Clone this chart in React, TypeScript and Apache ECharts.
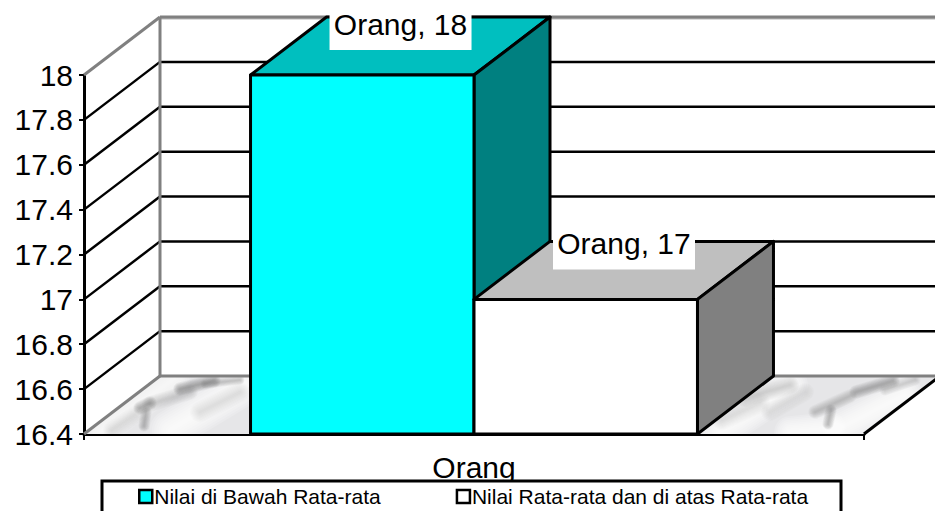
import React, { useEffect, useRef } from "react";
import * as echarts from "echarts";

const categories = ["Orang"];
const tickMin = 16.4;
const tickMax = 18;
const tickStep = 0.2;
const wallTicks = [16.4, 16.6, 16.8, 17, 17.2, 17.4, 17.6, 17.8, 18];
const seriesNames = ["Nilai di Bawah Rata-rata", "Nilai Rata-rata dan di atas Rata-rata"];
const seriesValues = [18, 17];
const frontColors = ["#00FFFF", "#FFFFFF"];
const topColors = ["#00BFBF", "#BFBFBF"];
const sideColors = ["#008080", "#808080"];

const FONT = '"Liberation Sans", Arial, sans-serif';
const DX = 76;
const DY = -58;
const BAR_RATIO = 0.2865;
const GRAY = "#808080";
const BLACK = "#000000";

// marble texture strokes: [x1, y1, x2, y2, width, grey, alpha]
const marble: number[][] = [
  [100, 432, 175, 378, 14, 255, 0.6],
  [170, 430, 245, 385, 18, 255, 0.8],
  [140, 408, 150, 403, 6, 120, 0.35],
  [144, 426, 146, 412, 5, 120, 0.3],
  [150, 404, 190, 392, 7, 150, 0.2],
  [180, 389, 214, 381, 6, 110, 0.34],
  [205, 384, 240, 380, 4, 130, 0.25],
  [112, 430, 135, 415, 8, 160, 0.14],
  [200, 412, 240, 392, 9, 170, 0.14],
  [720, 432, 790, 385, 16, 255, 0.8],
  [790, 432, 830, 428, 14, 255, 0.8],
  [840, 428, 905, 395, 16, 255, 0.8],
  [828, 424, 831, 410, 5, 120, 0.3],
  [815, 412, 850, 396, 6, 130, 0.24],
  [856, 392, 893, 381, 6, 110, 0.3],
  [745, 398, 790, 385, 8, 150, 0.2],
  [770, 412, 805, 392, 8, 165, 0.16],
  [885, 390, 915, 380, 5, 150, 0.2],
  [722, 420, 760, 403, 9, 175, 0.14],
];

const seg = (x1: number, y1: number, x2: number, y2: number, stroke: string, lineWidth: number) => ({
  type: "line",
  shape: { x1, y1, x2, y2 },
  style: { stroke, lineWidth },
});

const poly = (points: number[][], fill: any, stroke: string, lineWidth: number) => ({
  type: "polygon",
  shape: { points },
  style: { fill, stroke, lineWidth, lineJoin: "round" },
});

function marbleStrokes() {
  const out: any[] = [];
  const layers = 9;
  marble.forEach(([x1, y1, x2, y2, w, g, a]) => {
    for (let k = layers; k >= 1; k--) {
      out.push({
        type: "line",
        shape: { x1, y1, x2, y2 },
        style: {
          stroke: `rgb(${g},${g},${g})`,
          lineWidth: (w * k) / 4,
          lineCap: "round",
          opacity: (a * 2) / layers,
        },
      });
    }
  });
  return out;
}

export default function App() {
  const ref = useRef<HTMLDivElement>(null);
  useEffect(() => {
    const chart = echarts.init(ref.current as HTMLDivElement, undefined, { renderer: "svg" });

    const wallSeries = {
      type: "custom",
      name: "walls",
      silent: true,
      data: wallTicks.map((v) => [0, v]),
      z: 2,
      renderItem: (params: any, api: any) => {
        const v = api.value(1);
        const [cx, y] = api.coord([0, v]);
        const band = api.size([1, 0])[0];
        const l = cx - band / 2;
        const r = cx + band / 2;
        const isMin = v === tickMin;
        const isMax = v === tickMax;
        const children: any[] = [];
        if (isMin) {
          const floor = [[l, y], [l + DX, y + DY], [r + DX, y + DY], [r, y]];
          children.push({
            type: "group",
            clipPath: { type: "polygon", shape: { points: floor } },
            children: [poly(floor, "#E6E6E8", "none", 0), ...marbleStrokes()],
          });
          children.push(seg(l, y, l + DX, y + DY, GRAY, 3));
          children.push(seg(l + DX, y + DY, r + DX, y + DY, GRAY, 3));
          children.push(seg(r, y, r + DX, y + DY, BLACK, 3));
        } else if (isMax) {
          children.push(seg(l, y, l + DX, y + DY, GRAY, 3));
          children.push(seg(l + DX, y + DY + 1, r + DX, y + DY + 1, "#B8B8B8", 3));
          children.push(seg(l + DX, y + DY, r + DX, y + DY, GRAY, 3));
          children.push(seg(l + DX, y + DY, l + DX, y + DY + (api.coord([0, tickMin])[1] - y), GRAY, 3));
        } else {
          children.push(seg(l, y, l + DX, y + DY, BLACK, 2.5));
          children.push(seg(l + DX, y + DY, r + DX, y + DY, BLACK, 2.5));
        }
        return { type: "group", children };
      },
    };

    const barSeries = seriesValues.map((value, i) => ({
      type: "custom",
      name: seriesNames[i],
      z: 3 + i,
      itemStyle: { color: frontColors[i], borderColor: BLACK, borderWidth: 2 },
      data: [[0, value]],
      renderItem: (params: any, api: any) => {
        const [cx, y] = api.coord([0, api.value(1)]);
        const y0 = api.coord([0, tickMin])[1];
        const w = api.size([1, 0])[0] * BAR_RATIO;
        const x0 = cx - w + i * w;
        const x1 = x0 + w;
        return {
          type: "group",
          children: [
            poly([[x0, y], [x1, y], [x1 + DX, y + DY], [x0 + DX, y + DY]], topColors[i], BLACK, 3),
            poly([[x1, y], [x1 + DX, y + DY], [x1 + DX, y0 + DY], [x1, y0]], sideColors[i], BLACK, 3),
            poly([[x0, y], [x1, y], [x1, y0], [x0, y0]], frontColors[i], BLACK, 3),
          ],
        };
      },
    }));

    const labelSeries = {
      type: "custom",
      name: "labels",
      silent: true,
      z: 6,
      data: seriesValues.map((v, i) => [i, v]),
      renderItem: (params: any, api: any) => {
        const i = api.value(0);
        const [cx, y] = api.coord([0, api.value(1)]);
        const w = api.size([1, 0])[0] * BAR_RATIO;
        const x0 = cx - w + i * w + DX + 3;
        const yc = Math.max(y + DY + 2, 24);
        return {
          type: "group",
          children: [
            {
              type: "rect",
              shape: { x: x0, y: yc - 25, width: 142, height: 51 },
              style: { fill: "#FFFFFF" },
            },
            {
              type: "text",
              style: {
                x: x0 + 71,
                y: yc,
                text: `${categories[0]}, ${api.value(1)}`,
                align: "center",
                verticalAlign: "middle",
                fill: BLACK,
                font: `30px ${FONT}`,
              },
            },
          ],
        };
      },
    };

    chart.setOption({
      animation: false,
      backgroundColor: "#FFFFFF",
      grid: { left: 84, top: 75, width: 780, height: 359, containLabel: false },
      xAxis: {
        type: "category",
        data: categories,
        axisLine: { lineStyle: { color: BLACK, width: 3 } },
        axisTick: { show: true, length: 6, lineStyle: { color: BLACK, width: 2 } },
        axisLabel: { color: BLACK, fontFamily: FONT, fontSize: 30, margin: 18 },
        splitLine: { show: false },
      },
      yAxis: {
        type: "value",
        min: tickMin,
        max: tickMax,
        interval: tickStep,
        axisLine: { show: true, lineStyle: { color: BLACK, width: 3 } },
        axisTick: { show: true, length: 5, lineStyle: { color: BLACK, width: 2 } },
        axisLabel: { color: BLACK, fontFamily: FONT, fontSize: 30, margin: 11 },
        splitLine: { show: false },
      },
      legend: {
        left: 138,
        top: 486,
        data: seriesNames,
        icon: "rect",
        itemWidth: 13,
        itemHeight: 13,
        itemGap: 75,
        padding: 0,
        itemStyle: { borderColor: BLACK, borderWidth: 2.5 },
        textStyle: { color: BLACK, fontFamily: FONT, fontSize: 21, padding: [0, 0, 0, -3] },
        selectedMode: false,
      },
      graphic: [
        {
          type: "rect",
          shape: { x: 102, y: 481, width: 739, height: 45 },
          style: { fill: "#FFFFFF", stroke: BLACK, lineWidth: 3 },
          z: 1,
        },
      ],
      series: [wallSeries, ...barSeries, labelSeries],
    });
    return () => chart.dispose();
  }, []);
  return (
    <div
      ref={ref}
      style={{ position: "absolute", left: 0, top: 0, width: 935, height: 511, overflow: "hidden" }}
    />
  );
}
